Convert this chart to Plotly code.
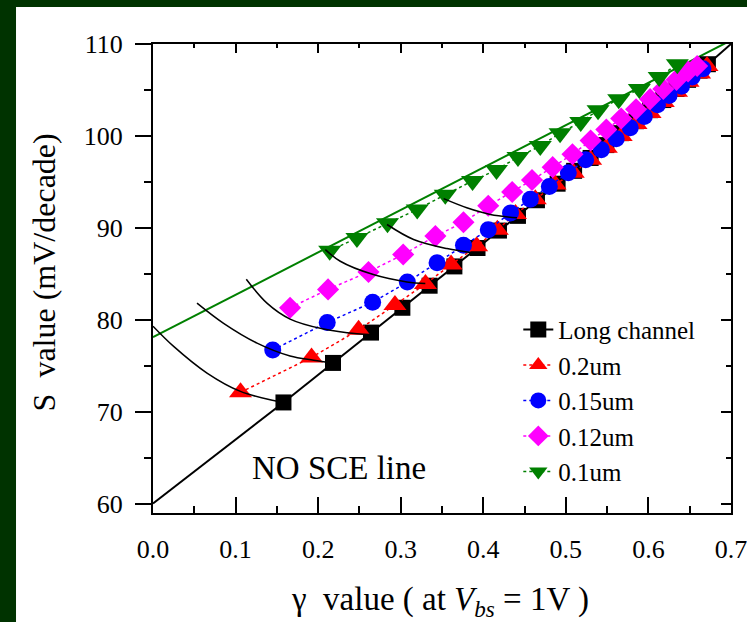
import plotly.graph_objects as go

# ---------------- data ----------------
long_x = [0.158, 0.218, 0.264, 0.302, 0.335, 0.365, 0.393, 0.419, 0.442, 0.465, 0.490,
          0.510, 0.530, 0.549, 0.567, 0.585, 0.602, 0.618, 0.634, 0.648, 0.662, 0.672]
long_y = [71.0, 75.3, 78.6, 81.3, 83.7, 85.8, 87.8, 89.7, 91.3, 93.0, 94.8,
          96.2, 97.6, 99.0, 100.3, 101.6, 102.8, 103.9, 105.1, 106.1, 107.1, 107.8]

l02_x = [0.106, 0.192, 0.249, 0.293, 0.330, 0.361, 0.392, 0.417, 0.439, 0.463, 0.487,
         0.509, 0.530, 0.549, 0.567, 0.585, 0.602, 0.618, 0.634, 0.648, 0.662, 0.671]
l02_y = [72.1, 75.9, 78.9, 81.6, 83.9, 86.0, 88.0, 89.8, 91.5, 93.1, 94.7,
         96.0, 97.4, 98.7, 100.0, 101.3, 102.5, 103.7, 104.8, 105.9, 106.8, 107.6]

l015_x = [0.145, 0.211, 0.266, 0.308, 0.344, 0.376, 0.406, 0.433, 0.457, 0.480, 0.503,
          0.524, 0.543, 0.561, 0.578, 0.595, 0.611, 0.625, 0.640, 0.653, 0.666]
l015_y = [76.7, 79.7, 81.9, 84.1, 86.2, 88.1, 89.8, 91.6, 93.1, 94.5, 96.0,
          97.4, 98.5, 99.7, 100.9, 102.1, 103.4, 104.4, 105.4, 106.4, 107.3]

l012_x = [0.166, 0.212, 0.261, 0.303, 0.342, 0.376, 0.406, 0.435, 0.459, 0.484,
          0.508, 0.530, 0.549, 0.567, 0.585, 0.602, 0.618, 0.634, 0.648, 0.659]
l012_y = [81.3, 83.3, 85.2, 87.1, 89.1, 90.6, 92.4, 93.9, 95.2, 96.6,
          98.0, 99.5, 100.7, 101.9, 102.9, 104.0, 105.1, 106.1, 107.0, 107.6]

l01_x = [0.214, 0.247, 0.284, 0.320, 0.354, 0.387, 0.416, 0.442, 0.469, 0.493,
         0.518, 0.539, 0.564, 0.589, 0.613, 0.635]
l01_y = [87.5, 88.9, 90.5, 92.0, 93.6, 95.1, 96.3, 97.7, 98.9, 100.3,
         101.5, 102.8, 104.0, 105.1, 106.4, 107.8]

# "NO SCE" line extensions beyond the long-channel data (from the origin and to the top corner)
nosce_x = [0.0, 0.158, None, 0.672, 0.7]
nosce_y = [60.0, 71.0, None, 107.8, 110.0]
green_x = [0.0, 0.7]
green_y = [78.1, 110.4]

# iso curves (black arcs)
arcs = [
    ([0.0, 0.025, 0.0654, 0.1059, 0.1461, 0.158], [79.3, 77.1, 74.2, 72.2, 71.2, 71.0]),
    ([0.0533, 0.0855, 0.126, 0.166, 0.1945, 0.218], [81.8, 79.6, 77.45, 76.05, 75.6, 75.3]),
    ([0.113, 0.138, 0.166, 0.2066, 0.247, 0.2644], [84.4, 81.8, 80.07, 78.98, 78.47, 78.4]),
    ([0.2087, 0.2268, 0.2668, 0.3076, 0.3298], [87.63, 86.36, 84.91, 84.11, 83.93]),
    ([0.2834, 0.3156, 0.356, 0.3883], [90.36, 88.73, 87.74, 87.27]),
    ([0.352, 0.380, 0.4085, 0.4408], [93.17, 92.18, 91.45, 91.09]),
]

x_ticks = [0.0, 0.1, 0.2, 0.3, 0.4, 0.5, 0.6, 0.7]
y_ticks = [60, 70, 80, 90, 100, 110]
y_minor = [65, 75, 85, 95, 105]

# ---------------- figure ----------------
FONT = "Liberation Serif"
fig = go.Figure()

fig.add_trace(go.Scatter(x=nosce_x, y=nosce_y, mode="lines", connectgaps=False,
                         line=dict(color="black", width=2), showlegend=False, hoverinfo="skip"))
fig.add_trace(go.Scatter(x=green_x, y=green_y, mode="lines",
                         line=dict(color="#008000", width=2), showlegend=False, hoverinfo="skip"))

fig.add_trace(go.Scatter(x=long_x, y=long_y, mode="lines+markers", name="Long channel",
                         line=dict(color="black", width=2),
                         marker=dict(symbol="square", size=16, color="black", line=dict(width=0))))
fig.add_trace(go.Scatter(x=l02_x, y=l02_y, mode="lines+markers", name="0.2um",
                         line=dict(color="red", width=1.5, dash="dot"),
                         marker=dict(symbol="triangle-up", size=20, color="red", line=dict(width=0))))
fig.add_trace(go.Scatter(x=l015_x, y=l015_y, mode="lines+markers", name="0.15um",
                         line=dict(color="blue", width=1.5, dash="dot"),
                         marker=dict(symbol="circle", size=17, color="blue", line=dict(width=0))))
fig.add_trace(go.Scatter(x=l012_x, y=l012_y, mode="lines+markers", name="0.12um",
                         line=dict(color="magenta", width=1.5, dash="dot"),
                         marker=dict(symbol="diamond", size=17, color="magenta", line=dict(width=0))))
fig.add_trace(go.Scatter(x=l01_x, y=l01_y, mode="lines+markers", name="0.1um",
                         line=dict(color="#008000", width=1.5, dash="dot"),
                         marker=dict(symbol="triangle-down", size=20, color="#008000", line=dict(width=0))))

for ax_, ay_ in arcs:
    fig.add_trace(go.Scatter(x=ax_, y=ay_, mode="lines", line=dict(color="black", width=1.5, shape="spline"),
                             showlegend=False, hoverinfo="skip"))

# dummy trace for top/right overlay axes
fig.add_trace(go.Scatter(x=[0.35], y=[85], xaxis="x2", yaxis="y2", mode="markers",
                         marker=dict(size=1, opacity=0), showlegend=False, hoverinfo="skip"))

XR = [0.0, 0.7]
YR = [58.97, 110.0]

common = dict(showline=True, linecolor="black", linewidth=2, showgrid=False, zeroline=False,
              automargin=False, tickwidth=2, tickcolor="black")

fig.update_layout(
    width=747, height=622,
    margin=dict(l=153, r=16, t=44, b=109, autoexpand=False),
    paper_bgcolor="#003300",
    plot_bgcolor="white",
    font=dict(family=FONT, color="black", size=24),
    xaxis=dict(range=XR, tickvals=x_ticks, ticktext=[f"{v:.1f}" for v in x_ticks],
               ticks="inside", ticklen=16, ticklabeloverflow="allow",
               minor=dict(dtick=0.05, tick0=0, ticks="inside", ticklen=7, tickwidth=2, tickcolor="black"),
               tickfont=dict(size=26, family=FONT), ticklabelstandoff=12, **common),
    yaxis=dict(range=YR, tickvals=y_ticks,
               ticks="outside", ticklen=16, ticklabeloverflow="allow",
               minor=dict(tickvals=y_minor, ticks="outside", ticklen=7, tickwidth=2, tickcolor="black"),
               tickfont=dict(size=26, family=FONT), ticklabelstandoff=7, **common),
    xaxis2=dict(range=XR, overlaying="x", side="top", tickvals=x_ticks, showticklabels=False,
                ticks="inside", ticklen=9,
                minor=dict(dtick=0.05, tick0=0, ticks="inside", ticklen=4, tickwidth=2, tickcolor="black"),
                **common),
    yaxis2=dict(range=YR, overlaying="y", side="right", tickvals=y_ticks, showticklabels=False,
                ticks="inside", ticklen=10,
                minor=dict(tickvals=y_minor, ticks="inside", ticklen=5, tickwidth=2, tickcolor="black"),
                **common),
    legend=dict(x=0.632, y=0.44, xanchor="left", yanchor="top", bgcolor="rgba(0,0,0,0)",
                font=dict(size=25, family=FONT), tracegroupgap=0),
    showlegend=True,
    shapes=[dict(type="rect", xref="paper", yref="paper", x0=-0.237, x1=1.03, y0=-0.24, y1=1.0789,
                 fillcolor="white", line=dict(width=0), layer="below")],
    annotations=[
        dict(text="NO SCE line", x=0.117, y=63.85, xref="x", yref="y", xanchor="left", yanchor="middle",
             showarrow=False, font=dict(size=33, family=FONT)),
        dict(text="S  value (mV/decade)", x=-0.1886, y=0.513, xref="paper", yref="paper",
             xanchor="center", yanchor="middle", textangle=-90, showarrow=False,
             font=dict(size=32, family=FONT)),
        dict(text="γ  value ( at <i>V</i><sub><i>bs</i></sub> = 1V )", x=0.4965, y=-0.14,
             xref="paper", yref="paper", xanchor="center", yanchor="top", showarrow=False,
             font=dict(size=33, family=FONT)),
    ],
)

fig.write_html("out.html")
